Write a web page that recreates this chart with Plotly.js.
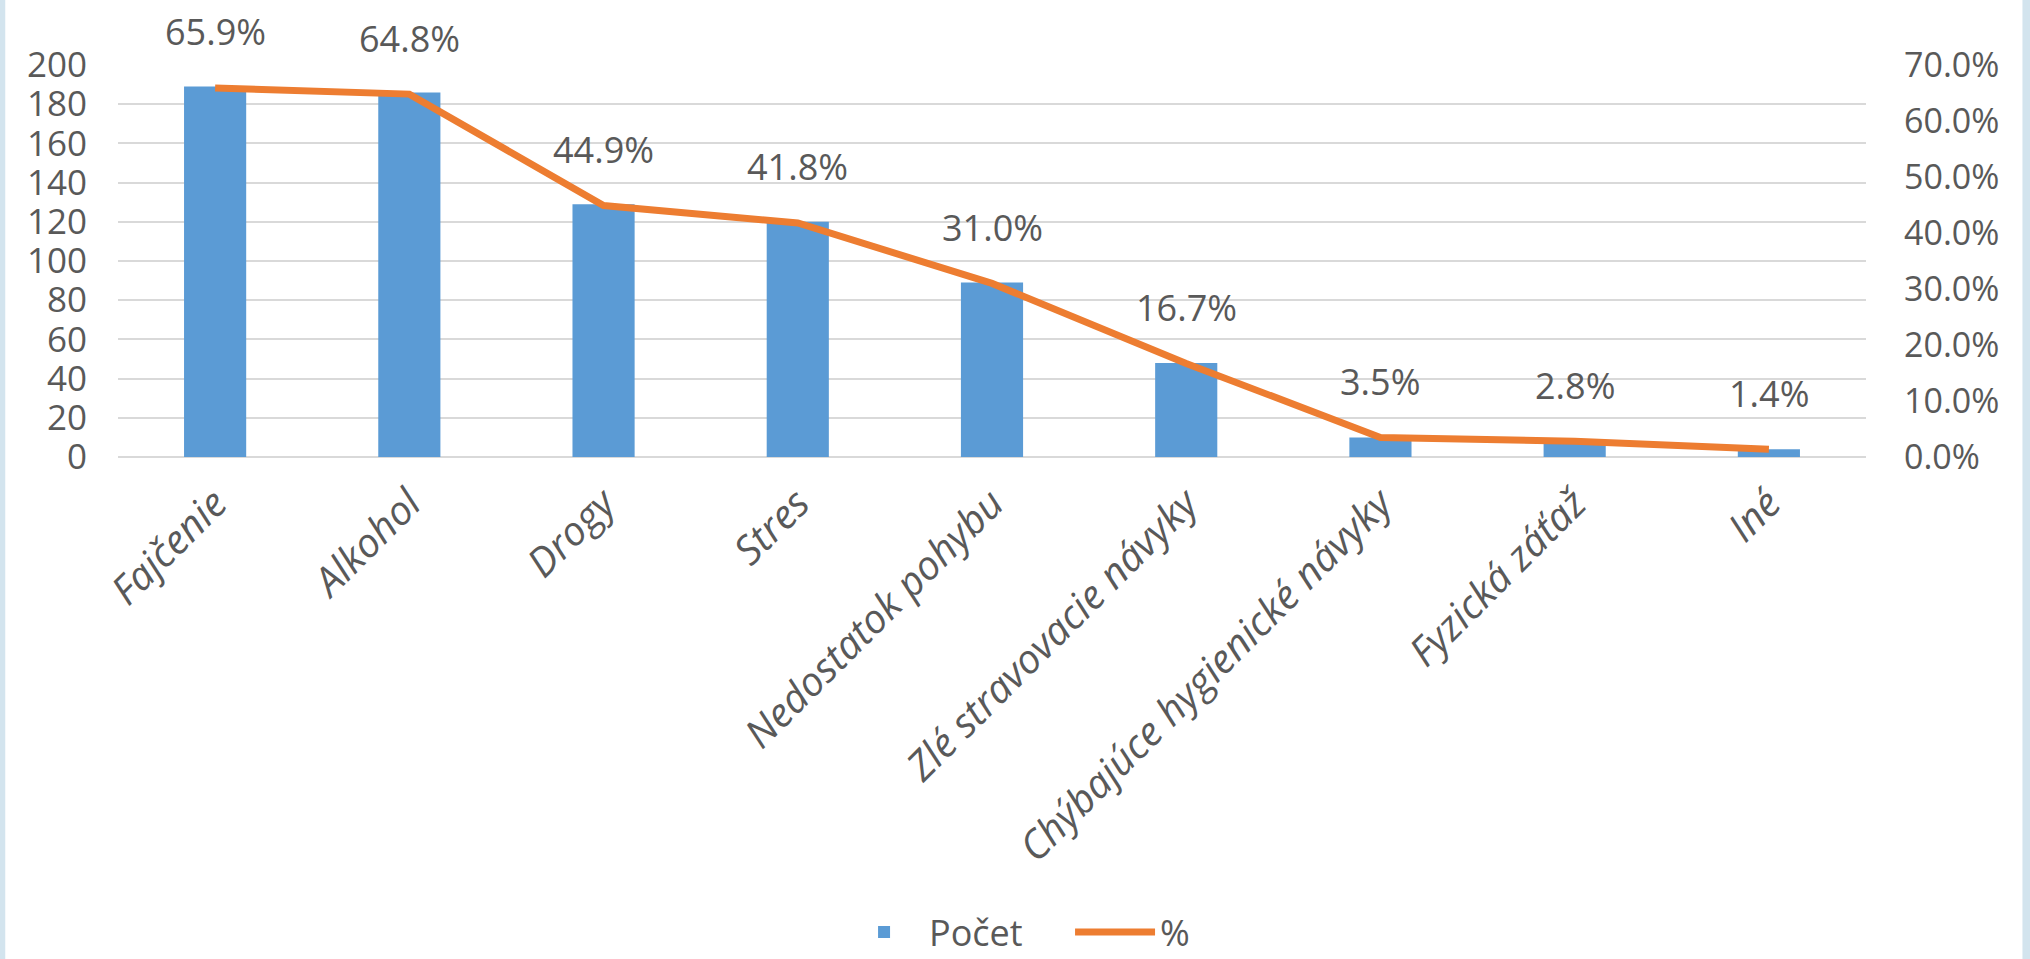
<!DOCTYPE html>
<html>
<head>
<meta charset="utf-8">
<script src="https://cdn.plot.ly/plotly-3.0.1.min.js"></script>
<style>html,body{margin:0;padding:0;background:#fff;}#chart{width:2030px;height:959px;}</style>
</head>
<body>
<div id="chart"></div>
<script>
const categories = ["Fajčenie", "Alkohol", "Drogy", "Stres", "Nedostatok pohybu", "Zlé stravovacie návyky", "Chýbajúce hygienické návyky", "Fyzická záťaž", "Iné"];
const counts = [189, 186, 129, 120, 89, 48, 10, 8, 4];
const percents = [65.9, 64.8, 44.9, 41.8, 31.0, 16.7, 3.5, 2.8, 1.4];
const countTicks = [0, 20, 40, 60, 80, 100, 120, 140, 160, 180, 200];
const percentTicks = [0, 10, 20, 30, 40, 50, 60, 70];
const percentTickLabels = ["0.0%", "10.0%", "20.0%", "30.0%", "40.0%", "50.0%", "60.0%", "70.0%"];

const FONT = "Open Sans, Lato, sans-serif";
const TXT = "#595959";

const traces = [
  {
    type: "bar", name: "Počet", x: categories, y: counts,
    marker: {color: "#5B9BD5"}, yaxis: "y", hoverinfo: "skip"
  },
  {
    type: "scatter", mode: "lines", name: "%", x: categories, y: percents,
    line: {color: "#ED7D31", width: 7}, yaxis: "y2", hoverinfo: "skip"
  }
];

const annotations = categories.map((c, i) => ({
  x: c, y: percents[i], xref: "x", yref: "y2",
  text: percents[i].toFixed(1) + "%", showarrow: false,
  yshift: 56, font: {family: FONT, size: 36, color: TXT}
}));

const edge = "#D3E4EE";
const shapes = [
  {type: "rect", xref: "paper", yref: "paper", x0: -0.0675, x1: -0.0645, y0: -1.281, y1: 1.166,
   fillcolor: edge, line: {width: 0}, layer: "below"},
  {type: "rect", xref: "paper", yref: "paper", x0: 1.0895, x1: 1.094, y0: -1.281, y1: 1.166,
   fillcolor: edge, line: {width: 0}, layer: "below"}
];

const layout = {
  width: 2030, height: 959,
  margin: {l: 118, r: 164, t: 65, b: 502, autoexpand: false},
  paper_bgcolor: "#fff", plot_bgcolor: "#fff",
  showlegend: true,
  bargap: 0.68,
  font: {family: FONT, color: TXT},
  xaxis: {
    type: "category", tickangle: -45, showgrid: false, showline: false, zeroline: false,
    ticks: "", ticklabelstandoff: 14,
    tickfont: {family: FONT, size: 40, color: TXT, style: "italic"}
  },
  yaxis: {
    range: [0, 200], tickmode: "array", tickvals: countTicks, showgrid: true, gridcolor: "#D9D9D9", gridwidth: 2,
    zeroline: true, zerolinecolor: "#D9D9D9", zerolinewidth: 2, showline: false, ticks: "",
    ticklabelstandoff: 30,
    tickfont: {family: FONT, size: 35, color: TXT}
  },
  yaxis2: {
    range: [0, 70], tickmode: "array", tickvals: percentTicks, ticktext: percentTickLabels,
    overlaying: "y", side: "right",
    showgrid: false, zeroline: false, showline: false, ticks: "",
    ticklabelstandoff: 37,
    tickfont: {family: FONT, size: 34, color: TXT}
  },
  legend: {
    orientation: "h", x: 0.4125, xanchor: "left", y: -1.212, yanchor: "middle",
    font: {family: FONT, size: 36, color: TXT}, itemwidth: 80,
    entrywidth: 136, entrywidthmode: "pixels"
  },
  shapes: shapes,
  annotations: annotations,
  hovermode: false
};

Plotly.newPlot("chart", traces, layout, {displayModeBar: false, staticPlot: true});
</script>
</body>
</html>
